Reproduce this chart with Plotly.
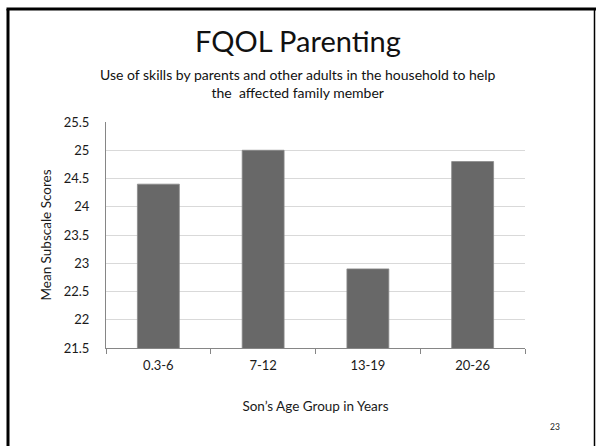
import plotly.graph_objects as go

categories = ["0.3-6", "7-12", "13-19", "20-26"]
values = [24.4, 25.0, 22.9, 24.8]
y_ticks = [21.5, 22, 22.5, 23, 23.5, 24, 24.5, 25, 25.5]
y_tick_labels = ["21.5", "22", "22.5", "23", "23.5", "24", "24.5", "25", "25.5"]

W, H = 596, 447
L, R, T, B = 106, 71, 121.5, 98.5
PW, PH = W - L - R, H - T - B

def px(x):
    return (x - L) / PW

def py(y):
    return (H - B - y) / PH

FONT = "Lato, 'Open Sans', sans-serif"

fig = go.Figure(go.Bar(
    x=categories, y=values,
    marker=dict(color="#686868", line=dict(color="#8a8a8a", width=0.8)),
    width=0.4,
))

fig.update_layout(
    width=W, height=H,
    margin=dict(l=L, r=R, t=T, b=B),
    paper_bgcolor="white", plot_bgcolor="white",
    showlegend=False,
    font=dict(family=FONT, color="#1a1a1a", size=13),
)
fig.update_yaxes(
    range=[21.5, 25.5], tickvals=y_ticks, ticktext=y_tick_labels,
    showgrid=True, gridcolor="#d9d9d9", gridwidth=1,
    showline=True, linecolor="#868686", linewidth=1,
    ticks="", ticklabelstandoff=13,
    tickfont=dict(size=13, family=FONT, color="#1a1a1a"),
    zeroline=False,
    title=dict(text="Mean Subscale Scores", font=dict(size=13.5, family=FONT, color="#1a1a1a"), standoff=8),
)
fig.update_xaxes(
    showline=True, linecolor="#868686", linewidth=1,
    ticks="outside", ticklen=5, tickcolor="#868686",
    tickson="boundaries", ticklabelstandoff=5,
    tickfont=dict(size=13, family=FONT, color="#1a1a1a"),
    title=dict(text="Son’s Age Group in Years", font=dict(size=13.5, family=FONT, color="#1a1a1a"), standoff=29),
)

annotations = [
    dict(text="FQOL Parenting", x=px(298), y=py(40), font=dict(size=29, family=FONT, color="#111")),
    dict(text="Use of skills by parents and other adults in the household to help<br>the  affected family member",
         x=px(298), y=py(83), font=dict(size=14, family=FONT, color="#111")),
    dict(text="23", x=px(555), y=py(428), font=dict(size=8.5, family=FONT, color="#222")),
]
for a in annotations:
    a.update(xref="paper", yref="paper", showarrow=False, xanchor="center", yanchor="middle")
fig.update_layout(annotations=annotations)

shapes = [
    dict(type="line", x0=px(6.5), x1=px(596), y0=py(8), y1=py(8), line=dict(color="black", width=3)),
    dict(type="line", x0=px(8), x1=px(8), y0=py(8), y1=py(447), line=dict(color="black", width=3)),
    dict(type="line", x0=px(594.5), x1=px(594.5), y0=py(8), y1=py(447), line=dict(color="black", width=1.5)),
]
for s in shapes:
    s.update(xref="paper", yref="paper")
fig.update_layout(shapes=shapes)

fig.write_html("out.html")
